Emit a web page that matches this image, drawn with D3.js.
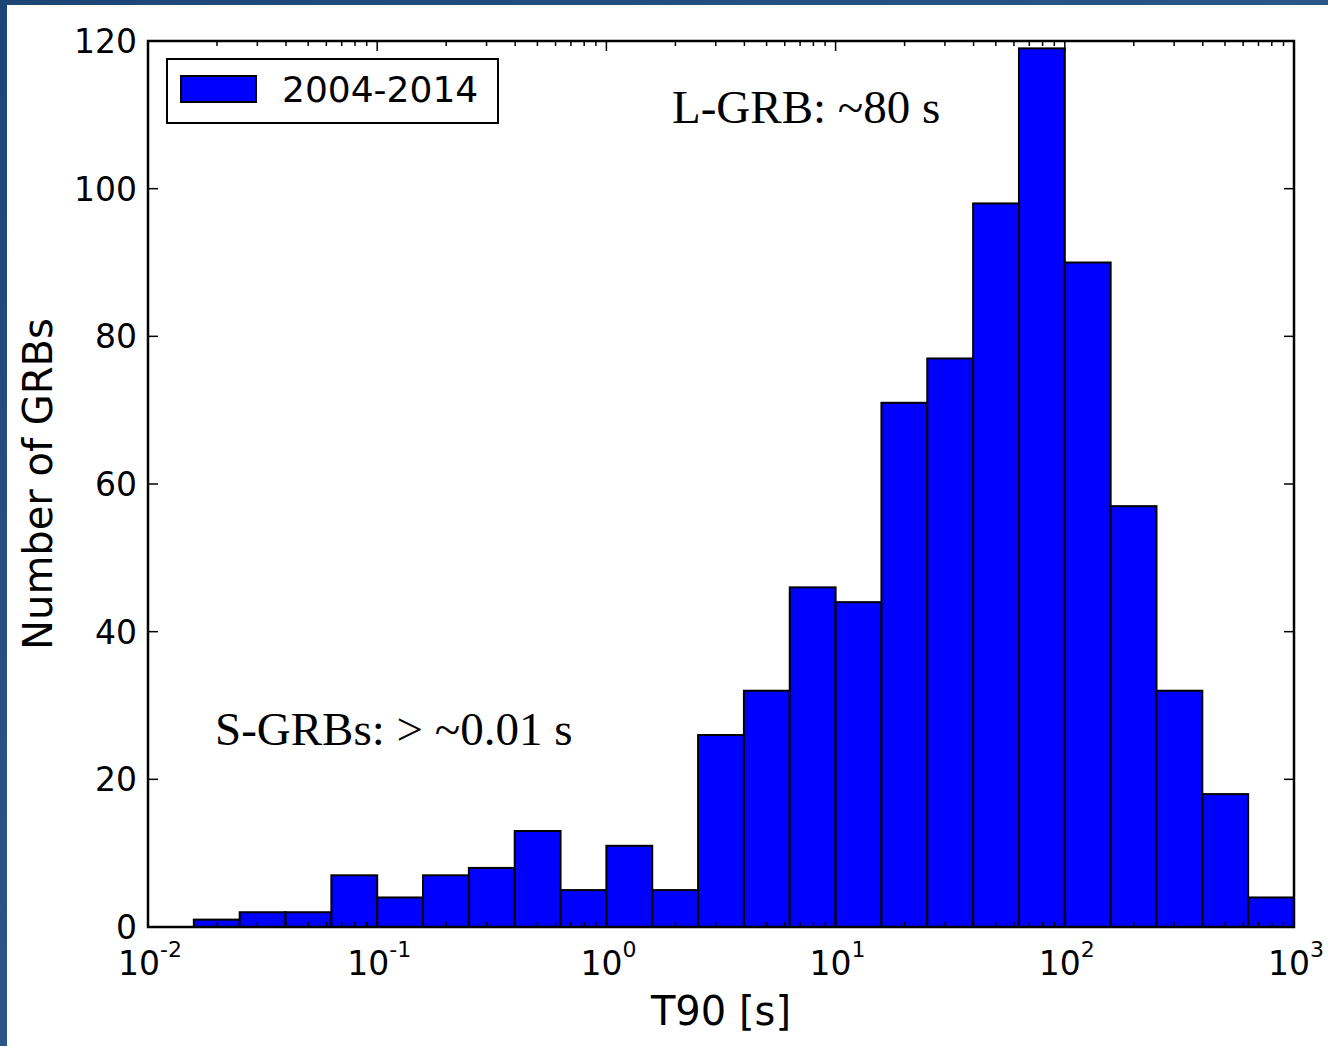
<!DOCTYPE html>
<html>
<head>
<meta charset="utf-8">
<script src="https://d3js.org/d3.v7.min.js"></script>
<style>
  html, body { margin: 0; padding: 0; }
  body { width: 1328px; height: 1046px; overflow: hidden; }
  text { font-family: "DejaVu Sans", sans-serif; fill: #000; }
  .note { font-family: "Liberation Serif", "Times New Roman", serif; }
</style>
</head>
<body>
<svg id="chart" width="1328" height="1046"></svg>
<script>
'use strict'

// histogram bins: lower / upper edge exponents (log10 of T90 in s)
const binLow = [-1.8, -1.6, -1.4, -1.2, -1.0, -0.8, -0.6, -0.4, -0.2, 0.0, 0.2, 0.4,
  0.6, 0.8, 1.0, 1.2, 1.4, 1.6, 1.8, 2.0, 2.2, 2.4, 2.6, 2.8]
const binHigh = [-1.6, -1.4, -1.2, -1.0, -0.8, -0.6, -0.4, -0.2, 0.0, 0.2, 0.4, 0.6,
  0.8, 1.0, 1.2, 1.4, 1.6, 1.8, 2.0, 2.2, 2.4, 2.6, 2.8, 3.0]
const counts = [1, 2, 2, 7, 4, 7, 8, 13, 5, 11, 5, 26,
  32, 46, 44, 71, 77, 98, 119, 90, 57, 32, 18, 4]

const xTickExp = [-2, -1, 0, 1, 2, 3]
const yTicks = [0, 20, 40, 60, 80, 100, 120]
const seriesLabel = '2004-2014'
const notes = [
  { text: 'L-GRB: ~80 s', x: 672, y: 123 },
  { text: 'S-GRBs: > ~0.01 s', x: 215, y: 745 }
]

const plot = { left: 148, right: 1294, top: 41, bottom: 927 }

const svg = d3.select('#chart')

// slide-like blue background with white figure area
const defs = svg.append('defs')
const grad = defs.append('linearGradient')
  .attr('id', 'bg')
  .attr('x1', '0').attr('y1', '0').attr('x2', '1').attr('y2', '1')
grad.append('stop').attr('offset', '0').attr('stop-color', '#1c4576')
grad.append('stop').attr('offset', '0.5').attr('stop-color', '#2a5688')
grad.append('stop').attr('offset', '1').attr('stop-color', '#173d6a')
svg.append('rect').attr('width', 1328).attr('height', 1046).attr('fill', 'url(#bg)')
svg.append('rect').attr('x', 7).attr('y', 5).attr('width', 1321).attr('height', 1041).attr('fill', '#fff')

const x = d3.scaleLog().domain([1e-2, 1e3]).range([plot.left, plot.right])
const y = d3.scaleLinear().domain([0, 120]).range([plot.bottom, plot.top])

// bars
const bins = counts.map((c, i) => ({ lo: Math.pow(10, binLow[i]), hi: Math.pow(10, binHigh[i]), c }))
svg.append('g')
  .selectAll('rect')
  .data(bins.filter(d => d.c > 0))
  .join('rect')
  .attr('x', d => x(d.lo))
  .attr('y', d => y(d.c))
  .attr('width', d => x(d.hi) - x(d.lo))
  .attr('height', d => y(0) - y(d.c))
  .attr('fill', '#0000ff')
  .attr('stroke', '#000')
  .attr('stroke-width', 2)

// ticks (inside, all four sides)
const majorX = xTickExp.map(e => Math.pow(10, e))
const minorX = []
for (let e = -2; e < 3; e++) {
  for (let m = 2; m <= 9; m++) minorX.push(m * Math.pow(10, e))
}
const tickG = svg.append('g').attr('stroke', '#000').attr('stroke-width', 1.5)
majorX.forEach(v => {
  tickG.append('line').attr('x1', x(v)).attr('x2', x(v)).attr('y1', plot.bottom).attr('y2', plot.bottom - 10)
  tickG.append('line').attr('x1', x(v)).attr('x2', x(v)).attr('y1', plot.top).attr('y2', plot.top + 10)
})
minorX.forEach(v => {
  tickG.append('line').attr('x1', x(v)).attr('x2', x(v)).attr('y1', plot.bottom).attr('y2', plot.bottom - 5)
  tickG.append('line').attr('x1', x(v)).attr('x2', x(v)).attr('y1', plot.top).attr('y2', plot.top + 5)
})
yTicks.forEach(v => {
  tickG.append('line').attr('x1', plot.left).attr('x2', plot.left + 10).attr('y1', y(v)).attr('y2', y(v))
  tickG.append('line').attr('x1', plot.right).attr('x2', plot.right - 10).attr('y1', y(v)).attr('y2', y(v))
})

// frame
svg.append('rect')
  .attr('x', plot.left).attr('y', plot.top)
  .attr('width', plot.right - plot.left).attr('height', plot.bottom - plot.top)
  .attr('fill', 'none').attr('stroke', '#000').attr('stroke-width', 2.5)

// y tick labels
svg.append('g').selectAll('text')
  .data(yTicks)
  .join('text')
  .attr('x', plot.left - 11)
  .attr('y', d => y(d) + 12)
  .attr('text-anchor', 'end')
  .attr('font-size', 33)
  .text(d => d)

// x tick labels, 10 with superscript exponent
const xl = svg.append('g').selectAll('text')
  .data(xTickExp)
  .join('text')
  .attr('x', d => x(Math.pow(10, d)) + 2)
  .attr('y', plot.bottom + 48)
  .attr('text-anchor', 'middle')
  .attr('font-size', 33)
xl.append('tspan').text('10')
xl.append('tspan')
  .attr('font-size', 22)
  .attr('dy', -18)
  .text(d => String(d))

// axis labels
svg.append('text')
  .attr('x', (plot.left + plot.right) / 2)
  .attr('y', 1025)
  .attr('text-anchor', 'middle')
  .attr('font-size', 40)
  .text('T90 [s]')

svg.append('text')
  .attr('transform', `translate(52,${(plot.top + plot.bottom) / 2}) rotate(-90)`)
  .attr('text-anchor', 'middle')
  .attr('font-size', 40)
  .text('Number of GRBs')

// legend
const lg = svg.append('g')
lg.append('rect')
  .attr('x', 167).attr('y', 59).attr('width', 331).attr('height', 64)
  .attr('fill', '#fff').attr('stroke', '#000').attr('stroke-width', 2)
lg.append('rect')
  .attr('x', 181).attr('y', 76).attr('width', 75).attr('height', 26)
  .attr('fill', '#0000ff').attr('stroke', '#000').attr('stroke-width', 2)
lg.append('text')
  .attr('x', 282).attr('y', 102)
  .attr('font-size', 36)
  .text(seriesLabel)

// annotations
svg.append('g').selectAll('text')
  .data(notes)
  .join('text')
  .attr('class', 'note')
  .attr('x', d => d.x)
  .attr('y', d => d.y)
  .attr('font-size', 47)
  .text(d => d.text)
</script>
</body>
</html>
